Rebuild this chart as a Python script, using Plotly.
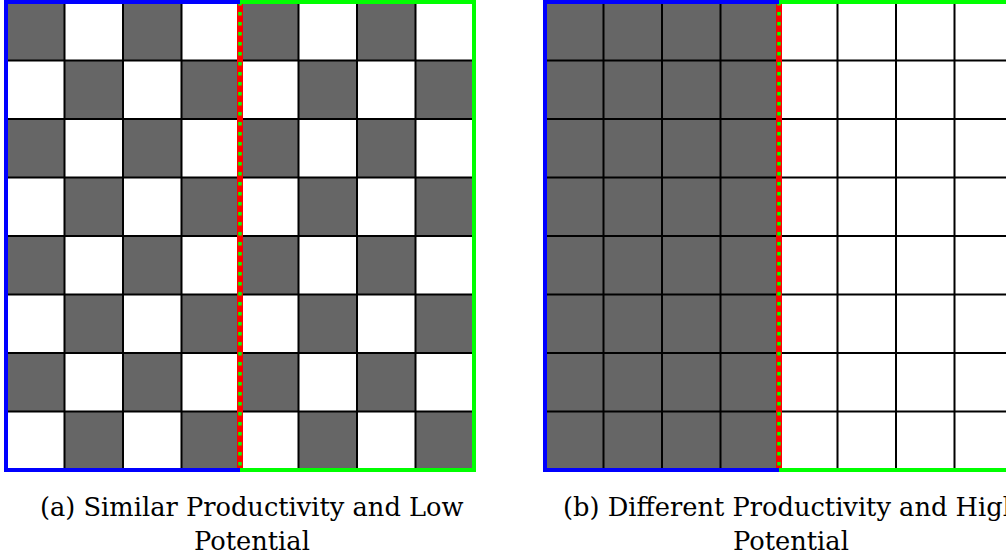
import plotly.graph_objects as go

# 1 = gray cell, 0 = white cell (row 0 is the top row)
left_grid = [
    [1, 0, 1, 0, 1, 0, 1, 0],
    [0, 1, 0, 1, 0, 1, 0, 1],
    [1, 0, 1, 0, 1, 0, 1, 0],
    [0, 1, 0, 1, 0, 1, 0, 1],
    [1, 0, 1, 0, 1, 0, 1, 0],
    [0, 1, 0, 1, 0, 1, 0, 1],
    [1, 0, 1, 0, 1, 0, 1, 0],
    [0, 1, 0, 1, 0, 1, 0, 1],
]
right_grid = [
    [1, 1, 1, 1, 0, 0, 0, 0],
    [1, 1, 1, 1, 0, 0, 0, 0],
    [1, 1, 1, 1, 0, 0, 0, 0],
    [1, 1, 1, 1, 0, 0, 0, 0],
    [1, 1, 1, 1, 0, 0, 0, 0],
    [1, 1, 1, 1, 0, 0, 0, 0],
    [1, 1, 1, 1, 0, 0, 0, 0],
    [1, 1, 1, 1, 0, 0, 0, 0],
]
cell_centers = [0.5, 1.5, 2.5, 3.5, 4.5, 5.5, 6.5, 7.5]
inner_lines = [1, 2, 3, 4, 5, 6, 7]
n_cells = 8
half = 4
captions = [
    ("(a) Similar Productivity and Low", "Potential"),
    ("(b) Different Productivity and High", "Potential"),
]

W, H = 1006, 558
cell_px = 58.5
grid_left_px = [6, 545]
grid_top_px, grid_bottom_px = 2, 470
pad_px = 3
pad = pad_px / cell_px
caption_shift_px = 12

fig = go.Figure()

axes = [("x", "y"), ("x2", "y2")]
grids = [left_grid, right_grid]

for (xa, ya), grid in zip(axes, grids):
    fig.add_trace(go.Heatmap(
        z=grid, x=cell_centers, y=cell_centers,
        colorscale=[[0, "#ffffff"], [1, "#666666"]], zmin=0, zmax=1,
        showscale=False, hoverinfo="skip", xaxis=xa, yaxis=ya,
    ))
    # inner grid lines
    gx, gy = [], []
    for v in inner_lines:
        gx += [v, v, None]
        gy += [0, n_cells, None]
        gx += [0, n_cells, None]
        gy += [v, v, None]
    fig.add_trace(go.Scatter(x=gx, y=gy, mode="lines",
                             line=dict(color="black", width=2),
                             xaxis=xa, yaxis=ya, hoverinfo="skip",
                             showlegend=False))
    # middle red/green line
    fig.add_trace(go.Scatter(x=[half, half], y=[0, n_cells], mode="lines",
                             line=dict(color="#ff0000", width=6),
                             xaxis=xa, yaxis=ya, hoverinfo="skip",
                             showlegend=False))
    fig.add_trace(go.Scatter(x=[half, half], y=[0, n_cells], mode="lines",
                             line=dict(color="#00ff00", width=3.5, dash="3.5px,6.5px"),
                             xaxis=xa, yaxis=ya, hoverinfo="skip",
                             showlegend=False))
    # blue border (left half)
    fig.add_trace(go.Scatter(x=[half, 0, 0, half], y=[0, 0, n_cells, n_cells],
                             mode="lines", line=dict(color="#0000ff", width=4),
                             xaxis=xa, yaxis=ya, hoverinfo="skip",
                             showlegend=False))
    # green border (right half)
    fig.add_trace(go.Scatter(x=[half, n_cells, n_cells, half], y=[0, 0, n_cells, n_cells],
                             mode="lines", line=dict(color="#00ff00", width=4),
                             xaxis=xa, yaxis=ya, hoverinfo="skip",
                             showlegend=False))

dom_y = [max(0.0, 1 - (grid_bottom_px + pad_px) / H),
         min(1.0, 1 - (grid_top_px - pad_px) / H)]
y_top_units = (dom_y[1] * H - (H - grid_top_px)) / cell_px  # how far above 0
y_bot_units = ((H - grid_bottom_px) - dom_y[0] * H) / cell_px
y_range = [n_cells + y_bot_units, -y_top_units]

ax_common = dict(showgrid=False, zeroline=False, showticklabels=False,
                 ticks="", showline=False, fixedrange=True)
x1_dom = [(grid_left_px[0] - pad_px) / W,
          (grid_left_px[0] + n_cells * cell_px + pad_px) / W]
x2_end = min(1.0, (grid_left_px[1] + n_cells * cell_px + pad_px) / W)
x2_dom = [(grid_left_px[1] - pad_px) / W, x2_end]
x2_range_max = (x2_end * W - grid_left_px[1]) / cell_px

fig.update_layout(
    width=W, height=H,
    margin=dict(l=0, r=0, t=0, b=0),
    paper_bgcolor="white", plot_bgcolor="white",
    showlegend=False,
    xaxis=dict(domain=x1_dom, range=[-pad, n_cells + pad], anchor="y", **ax_common),
    yaxis=dict(domain=dom_y, range=y_range, anchor="x", **ax_common),
    xaxis2=dict(domain=x2_dom, range=[-pad, x2_range_max], anchor="y2", **ax_common),
    yaxis2=dict(domain=dom_y, range=y_range, anchor="x2", **ax_common),
)

font = dict(family="DejaVu Serif", size=25.7, color="black")
centers_px = [grid_left_px[0] + half * cell_px + caption_shift_px,
              grid_left_px[1] + half * cell_px + caption_shift_px]
for cx, (l1, l2) in zip(centers_px, captions):
    fig.add_annotation(x=cx / W, y=1 - 507 / H, xref="paper", yref="paper",
                       text=l1, showarrow=False, font=font,
                       xanchor="center", yanchor="middle")
    fig.add_annotation(x=cx / W, y=1 - 541 / H, xref="paper", yref="paper",
                       text=l2, showarrow=False, font=font,
                       xanchor="center", yanchor="middle")

fig.write_html("out.html", config={"displayModeBar": False},
               post_script="document.body.style.margin='0';")
